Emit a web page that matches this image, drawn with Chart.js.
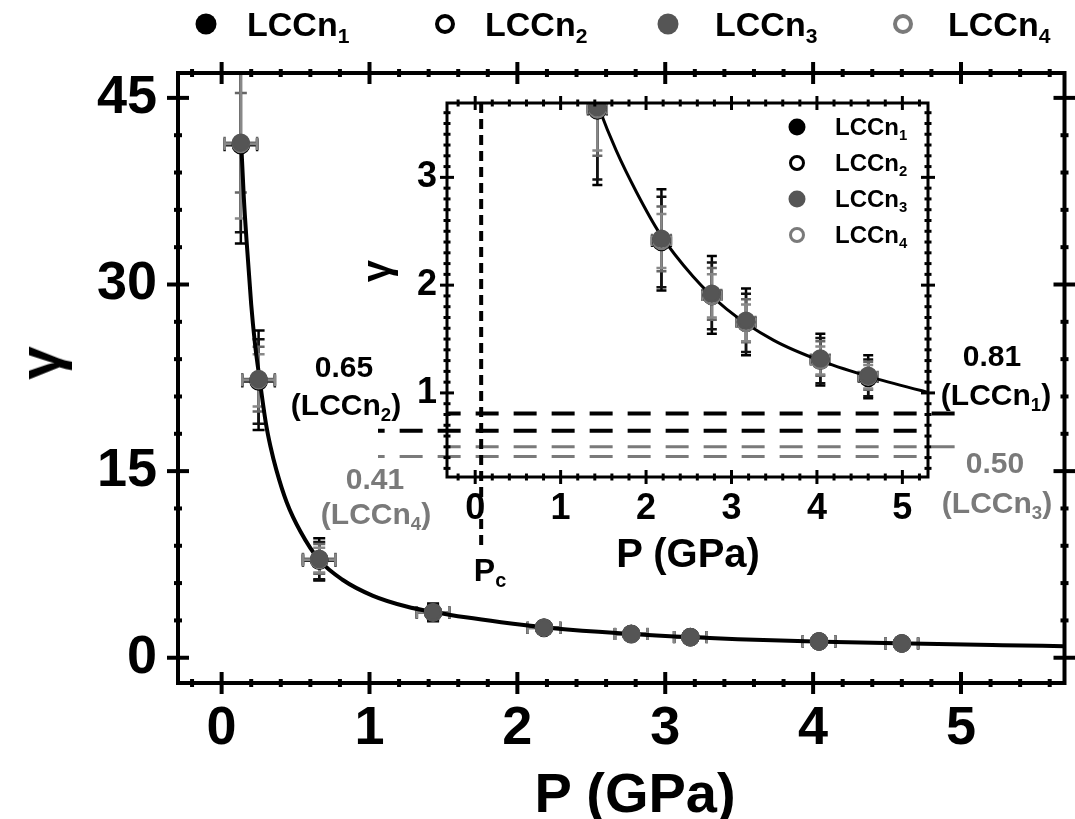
<!DOCTYPE html>
<html lang="en">
<head>
<meta charset="UTF-8">
<title>γ vs P</title>
<script src="https://cdn.jsdelivr.net/npm/chart.js"></script>
<style>
  html, body { margin: 0; padding: 0; background: #fff; overflow: hidden; }
  #wrap { position: relative; width: 1075px; height: 819px; font-family: 'Liberation Sans', Arial, sans-serif; font-weight: bold; color: #000; }
  canvas { position: absolute; left: 0; top: 0; }
  .t { position: absolute; transform: translate(-50%, -50%); white-space: nowrap; line-height: 1; }
  .t sub, .leg sub { font-size: 0.62em; vertical-align: -0.32em; line-height: 0; }
  .gray { color: #7a7a7a; }
  .dot { position: absolute; border-radius: 50%; box-sizing: border-box; transform: translate(-50%, -50%); }
  .leg { position: absolute; transform: translateY(-50%); white-space: nowrap; line-height: 1; }
</style>
</head>
<body>
<div id="wrap">
  <canvas id="mainChart" width="1075" height="819"></canvas>
  <canvas id="insetChart" width="1075" height="819"></canvas>

  <!-- top legend -->
  <div class="dot" style="left:206px;top:24px;width:21px;height:21px;background:#000"></div>
  <div class="leg" style="left:247px;top:24px;font-size:34px">LCCn<sub>1</sub></div>
  <div class="dot" style="left:445px;top:24px;width:20px;height:20px;border:4px solid #000;background:#fff"></div>
  <div class="leg" style="left:485px;top:24px;font-size:34px">LCCn<sub>2</sub></div>
  <div class="dot" style="left:668px;top:24px;width:21px;height:21px;background:#555"></div>
  <div class="leg" style="left:715px;top:24px;font-size:34px">LCCn<sub>3</sub></div>
  <div class="dot" style="left:903px;top:24px;width:20px;height:20px;border:4px solid #7a7a7a;background:#fff"></div>
  <div class="leg" style="left:948px;top:24px;font-size:34px">LCCn<sub>4</sub></div>

  <!-- inset legend -->
  <div class="dot" style="left:797px;top:127px;width:17px;height:17px;background:#000"></div>
  <div class="leg" style="left:835px;top:127px;font-size:24px">LCCn<sub>1</sub></div>
  <div class="dot" style="left:797px;top:163px;width:16px;height:16px;border:3px solid #000;background:#fff"></div>
  <div class="leg" style="left:835px;top:163px;font-size:24px">LCCn<sub>2</sub></div>
  <div class="dot" style="left:797px;top:199px;width:17px;height:17px;background:#555"></div>
  <div class="leg" style="left:835px;top:199px;font-size:24px">LCCn<sub>3</sub></div>
  <div class="dot" style="left:797px;top:235px;width:16px;height:16px;border:3px solid #7a7a7a;background:#fff"></div>
  <div class="leg" style="left:835px;top:235px;font-size:24px">LCCn<sub>4</sub></div>

  <!-- axis titles -->
  <div class="t" style="left:635px;top:793px;font-size:56px">P (GPa)</div>
  <div class="t" style="left:40px;top:363px;font-size:60px;transform:translate(-50%,-50%) rotate(-90deg)">γ</div>
  <div class="t" style="left:688px;top:553px;font-size:40px">P (GPa)</div>
  <div class="t" style="left:376px;top:271px;font-size:40px;transform:translate(-50%,-50%) rotate(-90deg)">γ</div>
  <div class="t" style="left:490px;top:570px;font-size:32px">P<sub>c</sub></div>

  <!-- threshold labels -->
  <div class="t" style="left:344px;top:367px;font-size:30px">0.65</div>
  <div class="t" style="left:346px;top:405px;font-size:30px">(LCCn<sub>2</sub>)</div>
  <div class="t gray" style="left:375px;top:479px;font-size:30px">0.41</div>
  <div class="t gray" style="left:376px;top:514px;font-size:30px">(LCCn<sub>4</sub>)</div>
  <div class="t" style="left:992px;top:356px;font-size:30px">0.81</div>
  <div class="t" style="left:996px;top:395px;font-size:30px">(LCCn<sub>1</sub>)</div>
  <div class="t gray" style="left:995px;top:463px;font-size:30px">0.50</div>
  <div class="t gray" style="left:997px;top:503px;font-size:30px">(LCCn<sub>3</sub>)</div>
</div>

<script>
// data
const pressure = [0.13, 0.25, 0.66, 1.43, 2.18, 2.77, 3.17, 4.04, 4.60];
const pressureErr = [0.11, 0.11, 0.11, 0.11, 0.11, 0.11, 0.11, 0.11, 0.11];

const gammaN1 = [41.3, 22.3, 7.90, 3.64, 2.42, 1.91, 1.66, 1.31, 1.15];
const errN1   = [8.0, 4.0, 1.7, 0.71, 0.47, 0.36, 0.31, 0.24, 0.20];
const gammaN2 = [41.2, 22.2, 7.80, 3.62, 2.40, 1.90, 1.65, 1.30, 1.14];
const errN2   = [7.0, 3.4, 1.5, 0.64, 0.42, 0.31, 0.27, 0.21, 0.17];
const gammaN3 = [41.4, 22.4, 7.95, 3.65, 2.43, 1.92, 1.67, 1.32, 1.16];
const errN3   = [4.0, 2.6, 1.2, 0.45, 0.30, 0.24, 0.20, 0.16, 0.13];
const gammaN4 = [41.3, 22.3, 7.85, 3.63, 2.41, 1.90, 1.65, 1.30, 1.15];
const errN4   = [6.0, 2.1, 1.0, 0.38, 0.25, 0.20, 0.17, 0.13, 0.11];

// fitted curve, traced point by point
const fitP     = [0.13, 0.15, 0.17, 0.20, 0.225, 0.258, 0.30, 0.33, 0.37, 0.44, 0.535, 0.66, 0.82, 1.02, 1.25, 1.46, 1.65, 1.89, 2.16, 2.55, 2.94, 3.49, 4.07, 4.66, 5.28, 5.70];
const fitGamma = [42.0, 37.0, 33.3, 28.4, 25.3, 22.3, 18.8, 17.0, 15.1, 12.5, 10.1, 7.85, 6.25, 5.0, 4.12, 3.62, 3.25, 2.86, 2.48, 2.08, 1.78, 1.49, 1.29, 1.14, 1.01, 0.93];

// threshold levels (LCCn1, LCCn2, LCCn3, LCCn4) and critical pressure
const thresholdLevels = [0.81, 0.65, 0.50, 0.41];
const criticalP = 0.07;

const mainXTicks = [0, 1, 2, 3, 4, 5];
const mainYTicks = [0, 15, 30, 45];
const insetXTicks = [0, 1, 2, 3, 4, 5];
const insetYTicks = [1, 2, 3];

const FONT = "'Liberation Sans', Arial, sans-serif";

const seriesInfo = [
    { label: 'LCCn1', y: gammaN1, err: errN1, fill: '#000', stroke: '#000', bar: '#000', order: 4 },
    { label: 'LCCn2', y: gammaN2, err: errN2, fill: '#fff', stroke: '#000', bar: '#111', order: 3 },
    { label: 'LCCn3', y: gammaN3, err: errN3, fill: '#555', stroke: '#555', bar: '#666', order: 1 },
    { label: 'LCCn4', y: gammaN4, err: errN4, fill: '#fff', stroke: '#7a7a7a', bar: '#888', order: 2 }
];

function buildDatasets(radius, curveWidth, clip) {
    const sets = seriesInfo.map(s => ({
        label: s.label,
        data: pressure.map((p, i) => ({ x: p, y: s.y[i] })),
        errY: s.err,
        errX: pressureErr,
        errColor: s.bar,
        pointRadius: radius,
        pointBackgroundColor: s.fill,
        pointBorderColor: s.stroke,
        pointBorderWidth: 2.5,
        showLine: false,
        order: s.order,
        clip: clip
    }));
    sets.push({
        label: 'fit',
        data: fitP.map((p, i) => ({ x: p, y: fitGamma[i] })),
        showLine: true,
        pointRadius: 0,
        borderColor: '#000',
        borderWidth: curveWidth,
        cubicInterpolationMode: 'monotone',
        order: 10,
        clip: clip
    });
    return sets;
}

// error bars drawn through the chart scales
const errorBars = {
    id: 'errorBars',
    beforeDatasetsDraw(chart, args, o) {
        const { ctx, chartArea: a, scales: { x, y } } = chart;
        ctx.save();
        ctx.beginPath();
        ctx.rect(a.left, a.top, a.right - a.left, a.bottom - a.top);
        ctx.clip();
        ctx.lineWidth = o.lineWidth;
        chart.data.datasets.forEach(ds => {
            if (!ds.errY) return;
            ctx.strokeStyle = ds.errColor;
            ds.data.forEach((pt, i) => {
                const px = x.getPixelForValue(pt.x), py = y.getPixelForValue(pt.y);
                const y1 = y.getPixelForValue(pt.y - ds.errY[i]);
                const y2 = y.getPixelForValue(pt.y + ds.errY[i]);
                const x1 = x.getPixelForValue(pt.x - ds.errX[i]);
                const x2 = x.getPixelForValue(pt.x + ds.errX[i]);
                ctx.beginPath();
                ctx.moveTo(px, y1); ctx.lineTo(px, y2);
                ctx.moveTo(px - o.cap, y1); ctx.lineTo(px + o.cap, y1);
                ctx.moveTo(px - o.cap, y2); ctx.lineTo(px + o.cap, y2);
                ctx.moveTo(x1, py); ctx.lineTo(x2, py);
                ctx.moveTo(x1, py - o.cap); ctx.lineTo(x1, py + o.cap);
                ctx.moveTo(x2, py - o.cap); ctx.lineTo(x2, py + o.cap);
                ctx.stroke();
            });
        });
        ctx.restore();
    }
};

// box frame with ticks crossing every side
const frameBox = {
    id: 'frameBox',
    afterDraw(chart, args, o) {
        const { ctx, chartArea: a, scales: { x, y } } = chart;
        ctx.save();
        ctx.strokeStyle = '#000';
        ctx.lineWidth = o.width;
        ctx.strokeRect(a.left, a.top, a.right - a.left, a.bottom - a.top);

        const seg = (x1, y1, x2, y2) => { ctx.beginPath(); ctx.moveTo(x1, y1); ctx.lineTo(x2, y2); ctx.stroke(); };

        const i0 = Math.ceil(x.min / o.xMinor - 1e-6), i1 = Math.floor(x.max / o.xMinor + 1e-6);
        for (let i = i0; i <= i1; i++) {
            const px = x.getPixelForValue(i * o.xMinor);
            const major = i % o.xRatio === 0;
            const L = major ? o.major : o.minor;
            ctx.lineWidth = major ? o.tickW : o.minorW;
            seg(px, a.bottom - L, px, a.bottom + L);
            seg(px, a.top - L, px, a.top + L);
        }
        const j0 = Math.ceil(y.min / o.yMinor - 1e-6), j1 = Math.floor(y.max / o.yMinor + 1e-6);
        for (let j = j0; j <= j1; j++) {
            const py = y.getPixelForValue(j * o.yMinor);
            const major = j % o.yRatio === 0;
            const L = major ? o.major : o.minor;
            ctx.lineWidth = major ? o.tickW : o.minorW;
            seg(a.left - L, py, a.left + L, py);
            seg(a.right - L, py, a.right + L, py);
        }
        ctx.restore();
    }
};

// dashed threshold lines and the Pc marker in the inset
const thresholds = {
    id: 'thresholds',
    afterDatasetsDraw(chart, args, o) {
        const { ctx, chartArea: a, scales: { x, y } } = chart;
        const anchor = x.getPixelForValue(0.45);
        const period = o.dash[0] + o.dash[1];
        ctx.save();
        thresholdLevels.forEach((lvl, k) => {
            const py = y.getPixelForValue(lvl);
            const x0 = a.left - o.extLeft[k];
            const x1 = a.right + o.extRight[k];
            ctx.strokeStyle = o.colors[k];
            ctx.lineWidth = o.widths[k];
            ctx.setLineDash(o.dash);
            ctx.lineDashOffset = (((x0 - anchor) % period) + period) % period;
            ctx.beginPath();
            ctx.moveTo(x0, py); ctx.lineTo(x1, py);
            ctx.stroke();
        });
        const pxc = x.getPixelForValue(criticalP);
        ctx.strokeStyle = '#000';
        ctx.lineWidth = 4;
        ctx.setLineDash([10, 6]);
        ctx.lineDashOffset = 0;
        ctx.beginPath();
        ctx.moveTo(pxc, a.top); ctx.lineTo(pxc, a.bottom + 70);
        ctx.stroke();
        ctx.restore();
    }
};

function tickFont(size) {
    return { family: FONT, size: size, weight: 'bold' };
}

// main chart
new Chart(document.getElementById('mainChart'), {
    type: 'scatter',
    data: { datasets: buildDatasets(8, 4, undefined) },
    plugins: [errorBars, frameBox],
    options: {
        responsive: false,
        animation: false,
        events: [],
        layout: { padding: { left: 0, top: 73, right: 9, bottom: 0 } },
        plugins: {
            legend: { display: false },
            tooltip: { enabled: false },
            errorBars: { lineWidth: 2.5, cap: 6 },
            frameBox: { width: 4, major: 11, minor: 4, tickW: 4, minorW: 4, xMinor: 0.2, xRatio: 5, yMinor: 3, yRatio: 5 }
        },
        scales: {
            x: {
                type: 'linear', min: -0.295, max: 5.70,
                afterFit: s => { s.height = 136; },
                afterBuildTicks: s => { s.ticks = mainXTicks.map(v => ({ value: v })); },
                grid: { display: false, drawTicks: false },
                border: { display: false },
                ticks: { font: tickFont(54), color: '#000', padding: 14, maxRotation: 0, autoSkip: false }
            },
            y: {
                type: 'linear', min: -2.03, max: 47.0,
                afterFit: s => { s.width = 178; },
                afterBuildTicks: s => { s.ticks = mainYTicks.map(v => ({ value: v })); },
                grid: { display: false, drawTicks: false },
                border: { display: false },
                ticks: { font: tickFont(54), color: '#000', padding: 21, autoSkip: false }
            }
        }
    }
});

// inset chart
new Chart(document.getElementById('insetChart'), {
    type: 'scatter',
    data: { datasets: buildDatasets(8, 3, 0) },
    plugins: [errorBars, thresholds, frameBox],
    options: {
        responsive: false,
        animation: false,
        events: [],
        layout: { padding: { left: 387, top: 103, right: 147, bottom: 282 } },
        plugins: {
            legend: { display: false },
            tooltip: { enabled: false },
            errorBars: { lineWidth: 2.5, cap: 5 },
            thresholds: {
                colors: ['#000', '#000', '#7a7a7a', '#7a7a7a'],
                widths: [4, 4, 3, 3],
                extLeft: [0, 69, 0, 69],
                extRight: [35, 0, 35, 0],
                dash: [23, 15]
            },
            frameBox: { width: 3, major: 7, minor: 3.5, tickW: 3, minorW: 3, xMinor: 0.2, xRatio: 5, yMinor: 0.1, yRatio: 10 }
        },
        scales: {
            x: {
                type: 'linear', min: -0.33, max: 5.30,
                afterFit: s => { s.height = 60; },
                afterBuildTicks: s => { s.ticks = insetXTicks.map(v => ({ value: v })); },
                grid: { display: false, drawTicks: false },
                border: { display: false },
                ticks: { font: tickFont(36), color: '#000', padding: 10, maxRotation: 0, autoSkip: false }
            },
            y: {
                type: 'linear', min: 0.22, max: 3.69,
                afterFit: s => { s.width = 60; },
                afterBuildTicks: s => { s.ticks = insetYTicks.map(v => ({ value: v })); },
                grid: { display: false, drawTicks: false },
                border: { display: false },
                ticks: { font: tickFont(36), color: '#000', padding: 10, autoSkip: false }
            }
        }
    }
});
</script>
</body>
</html>
